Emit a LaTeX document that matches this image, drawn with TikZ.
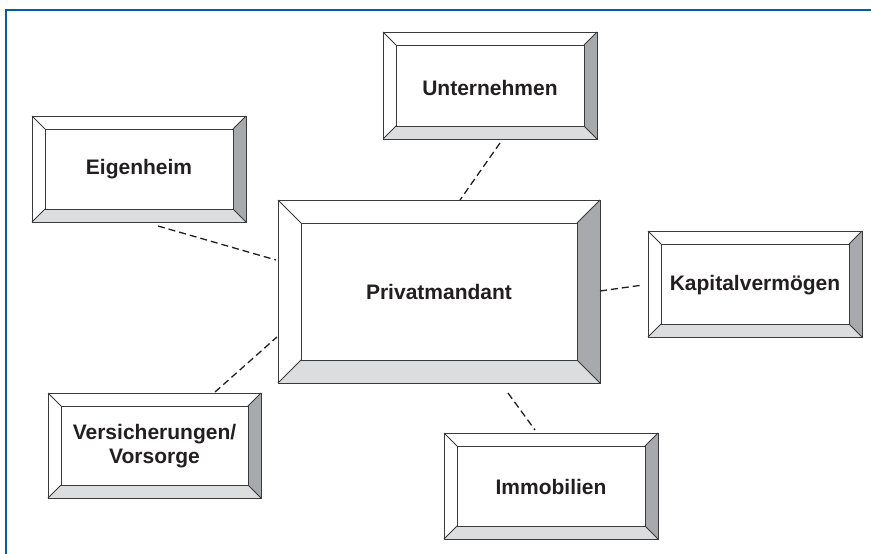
\documentclass[tikz,border=0pt]{standalone}
\usepackage{fontspec}
\setmainfont{Liberation Sans}
\usetikzlibrary{calc}
\definecolor{frameblue}{HTML}{0A5AA0}
\definecolor{ink}{HTML}{231F20}
\definecolor{bevdark}{HTML}{A7A9AC}
\definecolor{bevlight}{HTML}{DCDDDE}
\definecolor{edge}{HTML}{3A3A3A}
\tikzset{
  boxline/.style={draw=edge, line width=1pt, line join=miter, rectangle, inner sep=0pt, outer sep=0pt},
  bevelline/.style={draw=edge, line width=0.8pt},
  lbl/.style={font=\bfseries\fontsize{21}{23.5}\selectfont, text=ink, inner sep=0pt, anchor=base, align=center},
  link/.style={draw=ink, line width=1.3pt, dash pattern=on 7pt off 4pt},
  frame/.style={draw=frameblue, line width=1.3pt},
}
% name, x1, y1, x2, y2, bevel
\newcommand\bevbox[6]{%
  \fill[bevdark] (#4,#3) -- (#4,#5) -- ({#4-#6},{#5-#6}) -- ({#4-#6},{#3+#6}) -- cycle;
  \fill[bevlight] (#2,#5) -- (#4,#5) -- ({#4-#6},{#5-#6}) -- ({#2+#6},{#5-#6}) -- cycle;
  \draw[bevelline] (#2,#3) -- ({#2+#6},{#3+#6}) (#4,#3) -- ({#4-#6},{#3+#6})
    (#2,#5) -- ({#2+#6},{#5-#6}) (#4,#5) -- ({#4-#6},{#5-#6});
  \draw[bevelline] ({#2+#6},{#3+#6}) rectangle ({#4-#6},{#5-#6});
  \node[boxline, minimum width={#4pt-#2pt}, minimum height={#5pt-#3pt}] (#1) at ({(#2+#4)/2},{(#3+#5)/2}) {};
}
\begin{document}
\begin{tikzpicture}[x=1pt,y=-1pt]
\useasboundingbox (0,0) rectangle (871,554);
\draw[frame] (6,554) -- (6,10) -- (871,10);

\bevbox{unt}{383}{32}{597}{139}{13}
\bevbox{eig}{32}{116}{246}{222}{13}
\bevbox{priv}{278}{200}{600}{383}{23}
\bevbox{kap}{648}{231}{862}{337}{13}
\bevbox{vers}{48}{393}{261}{498}{13}
\bevbox{imm}{444}{433}{658}{539}{13}

\node[lbl] (tunt) at (490,95) {Unternehmen};
\node[lbl] (teig) at (139,174) {Eigenheim};
\node[lbl] (tpriv) at (439,299) {Privatmandant};
\node[lbl] (tkap) at (755,290) {Kapitalvermögen};
\node[lbl] (tvers) at (154.5,463) {Versicherungen/\\Vorsorge};
\node[lbl] (timm) at (551,494) {Immobilien};

\coordinate (ue) at (500,143); \coordinate (pu) at (460,200);
\coordinate (ee) at (158,226); \coordinate (pe) at (276,260);
\coordinate (ke) at (643,285); \coordinate (pk) at (600,291);
\coordinate (ve) at (215,392); \coordinate (pv) at (277,337);
\coordinate (ie) at (535,430); \coordinate (pi) at (508,393);

\draw[link] (ue) -- (pu);
\draw[link] (ee) -- (pe);
\draw[link] (pk) -- (ke);
\draw[link] (ve) -- (pv);
\draw[link] (pi) -- (ie);
\end{tikzpicture}
\end{document}
